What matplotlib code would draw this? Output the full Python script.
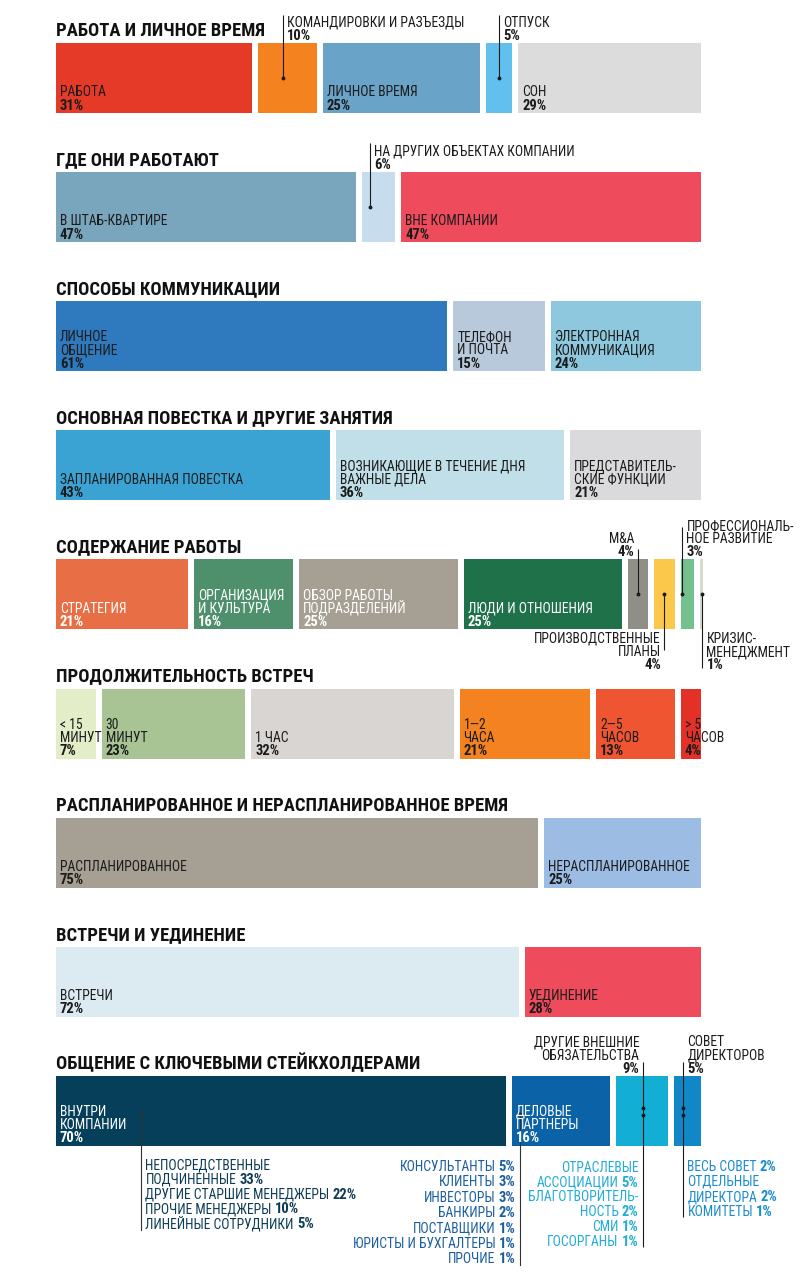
import matplotlib
matplotlib.use('Agg')
import matplotlib.pyplot as plt
from matplotlib import font_manager
import numpy as np

# ---------- данные ----------
titles = ['РАБОТА И ЛИЧНОЕ ВРЕМЯ', 'ГДЕ ОНИ РАБОТАЮТ', 'СПОСОБЫ КОММУНИКАЦИИ',
          'ОСНОВНАЯ ПОВЕСТКА И ДРУГИЕ ЗАНЯТИЯ', 'СОДЕРЖАНИЕ РАБОТЫ',
          'ПРОДОЛЖИТЕЛЬНОСТЬ ВСТРЕЧ', 'РАСПЛАНИРОВАННОЕ И НЕРАСПЛАНИРОВАННОЕ ВРЕМЯ',
          'ВСТРЕЧИ И УЕДИНЕНИЕ', 'ОБЩЕНИЕ С КЛЮЧЕВЫМИ СТЕЙКХОЛДЕРАМИ']

vremya_names = ['РАБОТА', 'КОМАНДИРОВКИ И РАЗЪЕЗДЫ', 'ЛИЧНОЕ ВРЕМЯ', 'ОТПУСК', 'СОН']
vremya_vals = [31, 10, 25, 5, 29]
vremya_colors = ['#e63a29', '#f4821f', '#6aa3c8', '#62c0ee', '#dcdcdc']

mesto_names = ['В ШТАБ-КВАРТИРЕ', 'НА ДРУГИХ ОБЪЕКТАХ КОМПАНИИ', 'ВНЕ КОМПАНИИ']
mesto_vals = [47, 6, 47]
mesto_colors = ['#79a6bd', '#c7dcec', '#ee4b5c']

svyaz_names = ['ЛИЧНОЕ\nОБЩЕНИЕ', 'ТЕЛЕФОН\nИ ПОЧТА', 'ЭЛЕКТРОННАЯ\nКОММУНИКАЦИЯ']
svyaz_vals = [61, 15, 24]
svyaz_colors = ['#2f7abf', '#b8c9db', '#8dc8df']

povestka_names = ['ЗАПЛАНИРОВАННАЯ ПОВЕСТКА', 'ВОЗНИКАЮЩИЕ В ТЕЧЕНИЕ ДНЯ\nВАЖНЫЕ ДЕЛА',
                  'ПРЕДСТАВИТЕЛЬ-\nСКИЕ ФУНКЦИИ']
povestka_vals = [43, 36, 21]
povestka_colors = ['#3ba3d4', '#c0dfe8', '#dadadc']

soderzh_names = ['СТРАТЕГИЯ', 'ОРГАНИЗАЦИЯ\nИ КУЛЬТУРА', 'ОБЗОР РАБОТЫ\nПОДРАЗДЕЛЕНИЙ',
                 'ЛЮДИ И ОТНОШЕНИЯ', 'M&A', 'ПРОИЗВОДСТВЕННЫЕ\nПЛАНЫ',
                 'ПРОФЕССИОНАЛЬ-\nНОЕ РАЗВИТИЕ', 'КРИЗИС-\nМЕНЕДЖМЕНТ']
soderzh_vals = [21, 16, 25, 25, 4, 4, 3, 1]
soderzh_colors = ['#e86f45', '#4e8f6c', '#a69f93', '#1e7149', '#8f8f87', '#fcc84b',
                  '#74c08f', '#d8d8cb']

vstrechi_names = ['< 15\nМИНУТ', '30\nМИНУТ', '1 ЧАС', '1—2\nЧАСА', '2—5\nЧАСОВ', '> 5\nЧАСОВ']
vstrechi_vals = [7, 23, 32, 21, 13, 4]
vstrechi_colors = ['#e3eec8', '#a8c495', '#d9d5d3', '#f48220', '#ee5530', '#e33127']

plan_names = ['РАСПЛАНИРОВАННОЕ', 'НЕРАСПЛАНИРОВАННОЕ']
plan_vals = [75, 25]
plan_colors = ['#a69f93', '#9dbce3']

uedin_names = ['ВСТРЕЧИ', 'УЕДИНЕНИЕ']
uedin_vals = [72, 28]
uedin_colors = ['#dceaf1', '#ee4b5c']

steik_names = ['ВНУТРИ\nКОМПАНИИ', 'ДЕЛОВЫЕ\nПАРТНЕРЫ', 'ДРУГИЕ ВНЕШНИЕ\nОБЯЗАТЕЛЬСТВА',
               'СОВЕТ\nДИРЕКТОРОВ']
steik_vals = [70, 16, 9, 5]
steik_colors = ['#053f5a', '#0b62a6', '#12aed3', '#1187c8']

vnutri_names = ['НЕПОСРЕДСТВЕННЫЕ\nПОДЧИНЕННЫЕ', 'ДРУГИЕ СТАРШИЕ МЕНЕДЖЕРЫ',
                'ПРОЧИЕ МЕНЕДЖЕРЫ', 'ЛИНЕЙНЫЕ СОТРУДНИКИ']
vnutri_vals = [33, 22, 10, 5]
partner_names = ['КОНСУЛЬТАНТЫ', 'КЛИЕНТЫ', 'ИНВЕСТОРЫ', 'БАНКИРЫ', 'ПОСТАВЩИКИ',
                 'ЮРИСТЫ И БУХГАЛТЕРЫ', 'ПРОЧИЕ']
partner_vals = [5, 3, 3, 2, 1, 1, 1]
vneshn_names = ['ОТРАСЛЕВЫЕ\nАССОЦИАЦИИ', 'БЛАГОТВОРИТЕЛЬ-\nНОСТЬ', 'СМИ', 'ГОСОРГАНЫ']
vneshn_vals = [5, 2, 1, 1]
sovet_names = ['ВЕСЬ СОВЕТ', 'ОТДЕЛЬНЫЕ\nДИРЕКТОРА', 'КОМИТЕТЫ']
sovet_vals = [2, 2, 1]

rows = [
    (vremya_names, vremya_vals, vremya_colors),
    (mesto_names, mesto_vals, mesto_colors),
    (svyaz_names, svyaz_vals, svyaz_colors),
    (povestka_names, povestka_vals, povestka_colors),
    (soderzh_names, soderzh_vals, soderzh_colors),
    (vstrechi_names, vstrechi_vals, vstrechi_colors),
    (plan_names, plan_vals, plan_colors),
    (uedin_names, uedin_vals, uedin_colors),
    (steik_names, steik_vals, steik_colors),
]

# ---------- шрифт: ищем узкое начертание ----------
fl = font_manager.fontManager.ttflist
condensed = ('condensed', 'semi-condensed', 'extra-condensed', 'ultra-condensed')
FONT, STRETCH = None, 'normal'
for pref in ['Roboto Condensed', 'Liberation Sans Narrow', 'Open Sans Condensed',
             'Noto Sans Condensed', 'Noto Sans', 'Open Sans', 'Roboto', 'DejaVu Sans']:
    for f in fl:
        if f.name == pref and ('Narrow' in f.name or 'Condensed' in f.name
                               or f.stretch in condensed):
            FONT, STRETCH = f.name, f.stretch
            break
    if FONT:
        break
if FONT is None:
    FONT = 'Liberation Sans'
plt.rcParams['font.family'] = [FONT, 'DejaVu Sans']
plt.rcParams['font.stretch'] = STRETCH

DARK = '#1b1b1b'
X0 = 56        # левый край полос, px
PXU = 6.51     # px на 1 %
GAP = 6 / PXU  # промежуток между сегментами
ROW0 = 43
ROW_STEP = 129.1
BAR_H = 70

# выноски: (ряд, сегмент) -> (режим, смещение линии px, верх линии, низ линии)
place = {
    (0, 1): ('ur', 25, -28, 35),
    (0, 3): ('ur', 13, -28, 35),
    (1, 1): ('ur', 8, -29, 35),
    (4, 4): ('ul', 10, -10, 35),
    (4, 5): ('dl', 10, 35, 91),
    (4, 6): ('ur', 1.2, -32, 35),
    (4, 7): ('dr', 1.5, 35, 109),
    (8, 2): ('ul', 27, -14, 171),
    (8, 3): ('ur', 8.5, -14, 141),
}
white_text = {(4, 0), (4, 1), (4, 2), (4, 3), (8, 0), (8, 1)}

# подсписки последнего ряда: имена, значения, цвет, сегмент, смещение px, сторона, y первой строки, шаг
subs = [
    (vnutri_names, vnutri_vals, '#0d3d56', 0, 85, 'r', 1169, 14.8),
    (partner_names, partner_vals, '#1c5f9e', 1, 8, 'l', 1171, 15.4),
    (vneshn_names, vneshn_vals, '#23acd4', 2, 27, 'l', 1172, 14.7),
    (sovet_names, sovet_vals, '#1b8ccc', 3, 8.5, 'r', 1171, 15.0),
]
sub_line_end = [1230, 1265, 1247, 1217]

fig = plt.figure(figsize=(8.1, 12.8), dpi=100)
ax = fig.add_axes([0, 0, 1, 1])
ax.set_xlim(-X0 / PXU, (810 - X0) / PXU)
ax.set_ylim(1280, 0)
ax.axis('off')
renderer = fig.canvas.get_renderer()


def fit_size(s, weight, target, cap):
    t = ax.text(0, 0, s, fontsize=10, fontweight=weight)
    w = t.get_window_extent(renderer=renderer).width
    t.remove()
    return min(cap, 10 * target / w)


FS = fit_size('КОМАНДИРОВКИ И РАЗЪЕЗДЫ', 'normal', 178, 10)
FS_PCT = FS * 1.07
FS_TITLE = fit_size('РАБОТА И ЛИЧНОЕ ВРЕМЯ', 'bold', 208, 13.5)


def px(v):
    return v / PXU


def stack(x, lines, pct, y_last, ha, color, step=13.2):
    allx = lines + [pct]
    n = len(allx)
    for i, s in enumerate(allx):
        last = i == n - 1
        ax.text(x, y_last - (n - 1 - i) * step, s, ha=ha, va='baseline',
                fontsize=FS_PCT if last else FS, color=color,
                fontweight='bold' if last else 'normal')


def inline(x, y, lines, pct, ha, color, step=13.0):
    # строки подписи, последняя строка с жирным процентом
    for i, s in enumerate(lines[:-1]):
        ax.text(x, y + i * step, s, ha=ha, va='baseline', fontsize=FS, color=color)
    yl = y + (len(lines) - 1) * step
    if ha == 'left':
        t = ax.text(x, yl, lines[-1], ha='left', va='baseline', fontsize=FS, color=color)
        w = t.get_window_extent(renderer=renderer).width
        ax.text(x + px(w + 3), yl, pct, ha='left', va='baseline', fontsize=FS_PCT,
                color=color, fontweight='bold')
    else:
        t = ax.text(x, yl, pct, ha='right', va='baseline', fontsize=FS_PCT, color=color,
                    fontweight='bold')
        w = t.get_window_extent(renderer=renderer).width
        ax.text(x - px(w + 3), yl, lines[-1], ha='right', va='baseline', fontsize=FS,
                color=color)
    return yl


seg_left = {}
for r, (names, vals, colors) in enumerate(rows):
    top = ROW0 + r * ROW_STEP
    bot = top + BAR_H
    mid = top + BAR_H / 2
    share = np.array(vals, dtype=float) / sum(vals) * 100
    lefts = np.concatenate([[0], np.cumsum(share)[:-1]])
    widths = np.maximum(share - GAP, 0.45)
    ax.barh(mid, widths, left=lefts, height=BAR_H, color=colors, linewidth=0)
    ax.text(0, top - 7, titles[r], ha='left', va='baseline', fontsize=FS_TITLE,
            fontweight='bold', color='#111111')
    for i, (nm, v) in enumerate(zip(names, vals)):
        seg_left[(r, i)] = lefts[i]
        lines = nm.split('\n')
        pct = f'{v}%'
        if (r, i) in place:
            mode, off, ya, yb = place[(r, i)]
            lx = lefts[i] + px(off)
            ax.plot([lx, lx], [top + ya, top + yb], color=DARK, lw=0.8,
                    solid_capstyle='butt')
            if r == 8:
                ax.plot([lx, lx], [mid - 3, mid + 4], 'o', color=DARK, ms=1.8)
            else:
                ax.plot(lx, mid, 'o', color=DARK, ms=1.8)
            if mode == 'ur':
                stack(lx + px(4.5), lines, pct, top - 3, 'left', DARK)
            elif mode == 'ul':
                stack(lx - px(3.5), lines, pct, top - 3, 'right', DARK)
            elif mode == 'dl':
                stack(lx - px(3.5), lines, pct, bot + 13.5 + len(lines) * 13.2,
                      'right', DARK)
            else:
                stack(lx + px(4.5), lines, pct, bot + 13.5 + len(lines) * 13.2,
                      'left', DARK)
        else:
            col = 'white' if (r, i) in white_text else DARK
            stack(lefts[i] + px(4), lines, pct, bot - 3.5, 'left', col)

# подсписки стейкхолдеров
top9 = ROW0 + 8 * ROW_STEP
for (nms, vls, col, seg, off, side, y0, step), yend in zip(subs, sub_line_end):
    lx = seg_left[(8, seg)] + px(off)
    if seg < 2:
        ax.plot([lx, lx], [top9 + 38, yend], color='#333333', lw=0.8)
        ax.plot(lx, top9 + 38, 'o', color='#333333', ms=1.8)
    y = y0
    for nm, v in zip(nms, vls):
        lines = nm.split('\n')
        if side == 'r':
            yl = inline(lx + px(4.5), y, lines, f'{v}%', 'left', col, step=step)
        else:
            yl = inline(lx - px(4.5), y, lines, f'{v}%', 'right', col, step=step)
        y = yl + step

fig.savefig('out.png', dpi=100, facecolor='white')
